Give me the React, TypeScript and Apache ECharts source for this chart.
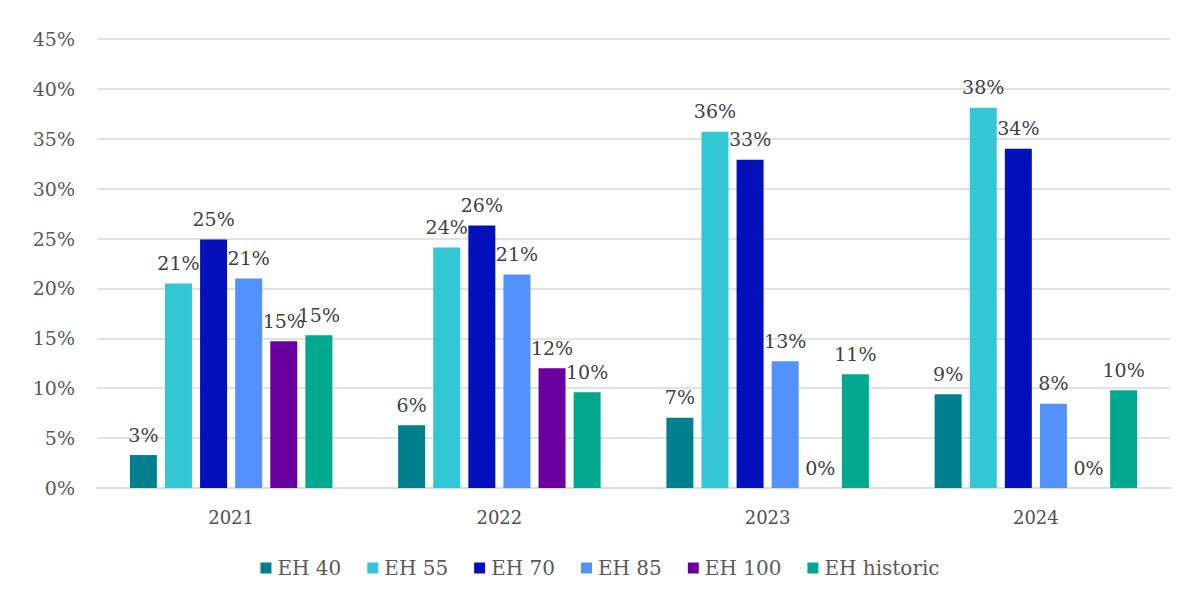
import React, { useEffect, useRef } from "react";
import * as echarts from "echarts";

const categories = ["2021", "2022", "2023", "2024"];
const seriesNames = ["EH 40", "EH 55", "EH 70", "EH 85", "EH 100", "EH historic"];
const eh40 = [3.3, 6.3, 7.05, 9.4];
const eh55 = [20.5, 24.1, 35.7, 38.1];
const eh70 = [24.9, 26.3, 32.9, 34.0];
const eh85 = [21.0, 21.4, 12.7, 8.45];
const eh100 = [14.7, 12.0, 0, 0];
const ehHistoric = [15.3, 9.6, 11.4, 9.8];
const yTicks = [0, 5, 10, 15, 20, 25, 30, 35, 40, 45];

const seriesData = [eh40, eh55, eh70, eh85, eh100, ehHistoric];
const colors = ["#00808F", "#33C6D5", "#0510BD", "#5391FF", "#6A00A0", "#00A890"];

export default function App() {
  const ref = useRef<HTMLDivElement>(null);
  useEffect(() => {
    if (!ref.current) return;
    const chart = echarts.init(ref.current, undefined, { renderer: "svg" });
    const serif = "DejaVu Serif";
    chart.setOption({
      animation: false,
      color: colors,
      grid: { left: 97, right: 30, top: 39, bottom: 120, containLabel: false },
      legend: {
        top: 553,
        left: "center",
        itemWidth: 11,
        itemHeight: 11,
        itemGap: 26,
        icon: "rect",
        textStyle: { fontFamily: serif, fontSize: 20, color: "#595959", padding: [0, 0, 0, 1] },
        data: seriesNames,
      },
      xAxis: {
        type: "category",
        data: categories,
        axisLine: { lineStyle: { color: "#d9d9d9", width: 1.5 } },
        axisTick: { show: false },
        axisLabel: { fontFamily: serif, fontSize: 18, color: "#505050", margin: 20 },
      },
      yAxis: {
        type: "value",
        min: yTicks[0],
        max: yTicks[yTicks.length - 1],
        interval: 5,
        axisLine: { show: false },
        axisTick: { show: false },
        splitLine: { lineStyle: { color: "#d9d9d9", width: 1.5 } },
        axisLabel: {
          fontFamily: serif,
          fontSize: 19,
          color: "#595959",
          margin: 22,
          formatter: (v: number) => `${v}%`,
        },
      },
      series: seriesNames.map((name, i) => ({
        name,
        type: "bar",
        data: seriesData[i],
        barWidth: 27,
        barGap: "30%",
        itemStyle: { color: colors[i] },
        label: {
          show: true,
          position: "top",
          distance: 11,
          fontFamily: serif,
          fontSize: 19,
          color: "#404040",
          formatter: (p: any) => `${Math.round(p.value)}%`,
        },
      })),
    });
    return () => chart.dispose();
  }, []);
  return <div ref={ref} style={{ width: 1200, height: 608, margin: -8 }} />;
}
